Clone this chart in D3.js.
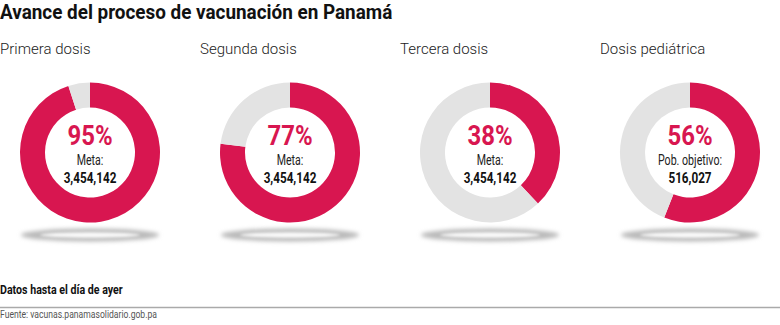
<!DOCTYPE html>
<html lang="es">
<head>
<meta charset="utf-8">
<script src="https://cdn.jsdelivr.net/npm/d3@7"></script>
<style>
  html, body { margin: 0; padding: 0; background: #fff; }
  svg { display: block; font-family: Roboto, "Noto Sans", sans-serif; }
</style>
</head>
<body>
<svg id="chart" width="780" height="325"></svg>
<script>
// Vaccination progress by dose
const categories = ["Primera dosis", "Segunda dosis", "Tercera dosis", "Dosis pediátrica"];
const percentages = [95, 77, 38, 56];
const targetLabels = ["Meta:", "Meta:", "Meta:", "Pob. objetivo:"];
const targets = [3454142, 3454142, 3454142, 516027];

const RED = "#d81650";
const GREY = "#e3e3e3";

const svg = d3.select("#chart");
const W = 780;

// Blur filters for the soft floor shadow under each ring
const defs = svg.append("defs");
defs.append("filter").attr("id", "soft").attr("x", "-20%").attr("y", "-200%")
  .attr("width", "140%").attr("height", "500%")
  .append("feGaussianBlur").attr("stdDeviation", "2.2");
defs.append("filter").attr("id", "soft2").attr("x", "-20%").attr("y", "-200%")
  .attr("width", "140%").attr("height", "500%")
  .append("feGaussianBlur").attr("stdDeviation", "1.6");

// Horizontally condensed text helper
function condensed(sel, x, y, sx, txt) {
  const g = sel.append("g").attr("transform", `translate(${x},${y}) scale(${sx},1)`);
  return g.append("text").text(txt);
}

// Title
condensed(svg, 0, 18.8, 0.945, "Avance del proceso de vacunación en Panamá")
  .attr("font-size", 20).attr("font-weight", 700).attr("fill", "#111");

const x = d3.scaleBand().domain(categories).range([0, 800]);
const cy = 152.5;
const outerR = 70, innerR = 45;

const pie = d3.pie().sort(null).value(d => d);
const arc = d3.arc().innerRadius(innerR).outerRadius(outerR);
const fmt = d3.format(",");

categories.forEach((cat, i) => {
  const x0 = x(cat);
  const cx = x0 + 90;

  // Category heading
  svg.append("text").attr("x", x0).attr("y", 53.5)
    .attr("font-size", 15).attr("font-weight", 300).attr("fill", "#222")
    .text(cat);

  // Floor shadow
  const sh = svg.append("g").attr("transform", `translate(${cx},235)`);
  sh.append("ellipse").attr("rx", 69).attr("ry", 6.5).attr("fill", "#b9b9b9").attr("filter", "url(#soft)");
  sh.append("ellipse").attr("rx", 50).attr("ry", 2.8).attr("fill", "#fbfbfb").attr("filter", "url(#soft2)");

  // Ring
  const g = svg.append("g").attr("transform", `translate(${cx},${cy})`);
  g.selectAll("path")
    .data(pie([percentages[i], 100 - percentages[i]]))
    .join("path")
    .attr("d", arc)
    .attr("fill", (d, j) => j === 0 ? RED : GREY);

  condensed(g, 0, -7.5, 0.84, percentages[i] + "%")
    .attr("text-anchor", "middle").attr("font-size", 28.5).attr("font-weight", 700).attr("fill", RED);
  condensed(g, 0, 12.5, 0.76, targetLabels[i])
    .attr("text-anchor", "middle").attr("font-size", 14).attr("font-weight", 400).attr("fill", "#222");
  condensed(g, 0, 30, 0.78, fmt(targets[i]))
    .attr("text-anchor", "middle").attr("font-size", 15).attr("font-weight", 700).attr("fill", "#111");
});

// Footnote, rule and source
condensed(svg, 0, 294, 0.82, "Datos hasta el día de ayer")
  .attr("font-size", 13).attr("font-weight", 700).attr("fill", "#111");
svg.append("line").attr("x1", 0).attr("x2", W).attr("y1", 307.5).attr("y2", 307.5)
  .attr("stroke", "#aaa").attr("stroke-width", 1.6);
condensed(svg, 0, 318, 0.86, "Fuente: vacunas.panamasolidario.gob.pa")
  .attr("font-size", 10).attr("font-weight", 400).attr("fill", "#555");
</script>
</body>
</html>
